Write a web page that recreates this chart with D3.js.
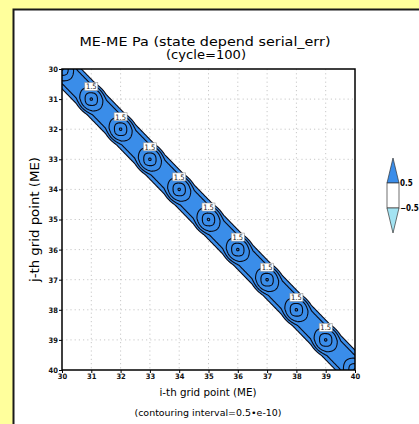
<!DOCTYPE html>
<html>
<head>
<meta charset="utf-8">
<script src="https://cdn.jsdelivr.net/npm/d3@7"></script>
<style>
  body { margin: 0; background: #ffff9c; }
  svg { display: block; }
</style>
</head>
<body>
<script>
// grid points along each axis (also the tick labels)
var gridTicks = [30, 31, 32, 33, 34, 35, 36, 37, 38, 39, 40];
// Pa on the diagonal (i = j), x1e-10
var nodeVariance = [2.62, 2.62, 2.62, 2.62, 2.62, 2.62, 2.62, 2.62, 2.62, 2.62, 2.62];
// covariance across the band, by distance |i - j|
var bandLag = [0, 0.36, 0.48, 0.66, 0.78, 3];
var bandCov = [1.2, 1.16, 1.0, 0.5, 0.0, 0.0];
// how the diagonal peak falls off around each grid point
var peakDist = [0, 0.22, 0.4, 0.52];
var peakShare = [1, 0.56, 0.23, 0];
var contourLevels = [0.5, 1.0, 1.5, 2.0, 2.5];
var labelledNodes = [31, 32, 33, 34, 35, 36, 37, 38, 39];
var legendLevels = ["0.5", "-0.5"];

(function () {
    var width = 419, height = 424;
    var pLeft = 62, pRight = 355, pTop = 69, pBottom = 370;
    var blue = "#3a8de9", lightBlue = "#a3e3f2";

    var svg = d3.select("body").append("svg")
        .attr("width", width)
        .attr("height", height);

    // white panel
    svg.append("rect")
        .attr("x", 13.5).attr("y", 9.5)
        .attr("width", 420).attr("height", 430)
        .attr("fill", "#fff")
        .attr("stroke", "#1a1a1a")
        .attr("stroke-width", 2);

    var xScale = d3.scaleLinear().domain([30, 40]).range([pLeft, pRight]);
    var yScale = d3.scaleLinear().domain([30, 40]).range([pTop, pBottom]);

    // gridlines
    var grid = svg.append("g")
        .attr("stroke", "#c8c8c8")
        .attr("stroke-width", 1)
        .attr("stroke-dasharray", "1.2,3");
    grid.selectAll(".gx")
        .data(gridTicks.slice(1, -1))
        .enter().append("line")
        .attr("x1", function(d) { return xScale(d); })
        .attr("x2", function(d) { return xScale(d); })
        .attr("y1", pTop).attr("y2", pBottom);
    grid.selectAll(".gy")
        .data(gridTicks.slice(1, -1))
        .enter().append("line")
        .attr("y1", function(d) { return yScale(d); })
        .attr("y2", function(d) { return yScale(d); })
        .attr("x1", pLeft).attr("x2", pRight);

    // build the field on a fine grid for contouring
    var bandScale = d3.scaleLinear().domain(bandLag).range(bandCov).clamp(true);
    var peakScale = d3.scaleLinear().domain(peakDist).range(peakShare).clamp(true);
    var step = 0.02, g0 = 29.8, n = Math.round((40.2 - g0) / step) + 1;
    var p = 2.5;
    var values = new Float64Array(n * n);
    for (var iy = 0; iy < n; ++iy) {
        for (var ix = 0; ix < n; ++ix) {
            var x = g0 + ix * step, y = g0 + iy * step;
            var v = bandScale(Math.abs(x - y));
            for (var k = 0; k < gridTicks.length; ++k) {
                var dx = Math.abs(x - gridTicks[k]), dy = Math.abs(y - gridTicks[k]);
                if (dx > 0.6 || dy > 0.6) continue;
                var r = Math.pow(Math.pow(dx, p) + Math.pow(dy, p), 1 / p);
                v += (nodeVariance[k] - bandCov[0]) * peakScale(r);
            }
            values[iy * n + ix] = v;
        }
    }

    var contours = d3.contours()
        .size([n, n])
        .thresholds(contourLevels)(values);

    var path = d3.geoPath(d3.geoTransform({
        point: function(px, py) {
            this.stream.point(xScale(g0 + (px - 0.5) * step), yScale(g0 + (py - 0.5) * step));
        }
    }));

    svg.append("clipPath").attr("id", "plot-clip")
        .append("rect")
        .attr("x", pLeft).attr("y", pTop)
        .attr("width", pRight - pLeft).attr("height", pBottom - pTop);

    var plot = svg.append("g").attr("clip-path", "url(#plot-clip)");

    plot.append("path")
        .datum(contours[0])
        .attr("d", path)
        .attr("fill", blue);

    plot.selectAll(".iso")
        .data(contours)
        .enter().append("path")
        .attr("d", path)
        .attr("fill", "none")
        .attr("stroke", "#0a0a14")
        .attr("stroke-width", 1.1);

    // contour labels
    var labels = plot.selectAll(".lab")
        .data(labelledNodes)
        .enter().append("g")
        .attr("transform", function(d) {
            return "translate(" + xScale(d) + "," + (yScale(d) - 12.5) + ")";
        });
    labels.append("rect")
        .attr("x", -6.5).attr("y", -4)
        .attr("width", 13).attr("height", 8)
        .attr("fill", "#fff")
        .attr("stroke", "#999")
        .attr("stroke-width", 0.6);
    labels.append("text")
        .attr("text-anchor", "middle")
        .attr("y", 2.8)
        .attr("font-family", "DejaVu Sans Condensed, DejaVu Sans, sans-serif")
        .attr("font-size", "7.5px")
        .attr("fill", "#222")
        .text("1.5");

    // frame
    svg.append("rect")
        .attr("x", pLeft).attr("y", pTop)
        .attr("width", pRight - pLeft).attr("height", pBottom - pTop)
        .attr("fill", "none")
        .attr("stroke", "#000")
        .attr("stroke-width", 1.5);

    var xAxis = d3.axisBottom(xScale).tickValues(gridTicks).tickSize(3).tickPadding(1);
    var yAxis = d3.axisLeft(yScale).tickValues(gridTicks).tickSize(3).tickPadding(1);

    var gx = svg.append("g")
        .attr("transform", "translate(0," + pBottom + ")")
        .call(xAxis);
    var gy = svg.append("g")
        .attr("transform", "translate(" + pLeft + ",0)")
        .call(yAxis);
    [gx, gy].forEach(function(g) {
        g.select(".domain").remove();
        g.selectAll("line").attr("stroke", "#000");
        g.selectAll("text")
            .attr("font-family", "DejaVu Sans Condensed, DejaVu Sans, sans-serif")
            .attr("font-size", "7.5px")
            .attr("font-weight", "bold")
            .attr("fill", "#111");
    });

    // titles
    var font = "DejaVu Sans, sans-serif";
    svg.append("text")
        .attr("x", 205).attr("y", 45.5)
        .attr("text-anchor", "middle")
        .attr("font-family", font).attr("font-size", "12.5px")
        .attr("textLength", 251).attr("lengthAdjust", "spacingAndGlyphs")
        .text("ME-ME Pa (state depend serial_err)");
    svg.append("text")
        .attr("x", 206).attr("y", 59)
        .attr("text-anchor", "middle")
        .attr("font-family", font).attr("font-size", "12.5px")
        .attr("textLength", 80).attr("lengthAdjust", "spacingAndGlyphs")
        .text("(cycle=100)");
    svg.append("text")
        .attr("x", 208).attr("y", 396)
        .attr("text-anchor", "middle")
        .attr("font-family", font).attr("font-size", "10.5px")
        .attr("textLength", 97).attr("lengthAdjust", "spacingAndGlyphs")
        .text("i-th grid point (ME)");
    svg.append("text")
        .attr("x", 208).attr("y", 416)
        .attr("text-anchor", "middle")
        .attr("font-family", font).attr("font-size", "9.5px")
        .attr("textLength", 147).attr("lengthAdjust", "spacingAndGlyphs")
        .text("(contouring interval=0.5\u2022e-10)");
    svg.append("text")
        .attr("transform", "translate(39," + ((pTop + pBottom) / 2) + ") rotate(-90)")
        .attr("text-anchor", "middle")
        .attr("font-family", font).attr("font-size", "12px")
        .attr("textLength", 125).attr("lengthAdjust", "spacingAndGlyphs")
        .text("j-th grid point (ME)");

    // colour bar
    var lx = 387, lw = 12, seg = 25, ly = 183;
    var legend = svg.append("g").attr("stroke", "#333").attr("stroke-width", 0.7);
    legend.append("path")
        .attr("d", "M" + lx + "," + ly + "L" + (lx + lw / 2) + "," + (ly - seg) + "L" + (lx + lw) + "," + ly + "Z")
        .attr("fill", blue);
    legend.append("rect")
        .attr("x", lx).attr("y", ly)
        .attr("width", lw).attr("height", seg)
        .attr("fill", "#fff");
    legend.append("path")
        .attr("d", "M" + lx + "," + (ly + seg) + "L" + (lx + lw) + "," + (ly + seg) + "L" + (lx + lw / 2) + "," + (ly + 2 * seg) + "Z")
        .attr("fill", lightBlue);
    svg.selectAll(".leglab")
        .data(legendLevels)
        .enter().append("text")
        .attr("x", lx + lw + 1)
        .attr("y", function(d, i) { return ly + i * seg + 3; })
        .attr("font-family", "DejaVu Sans Condensed, DejaVu Sans, sans-serif")
        .attr("font-size", "8px")
        .attr("font-weight", "bold")
        .text(function(d) { return d.replace("-", "\u2212"); });
})();
</script>
</body>
</html>
